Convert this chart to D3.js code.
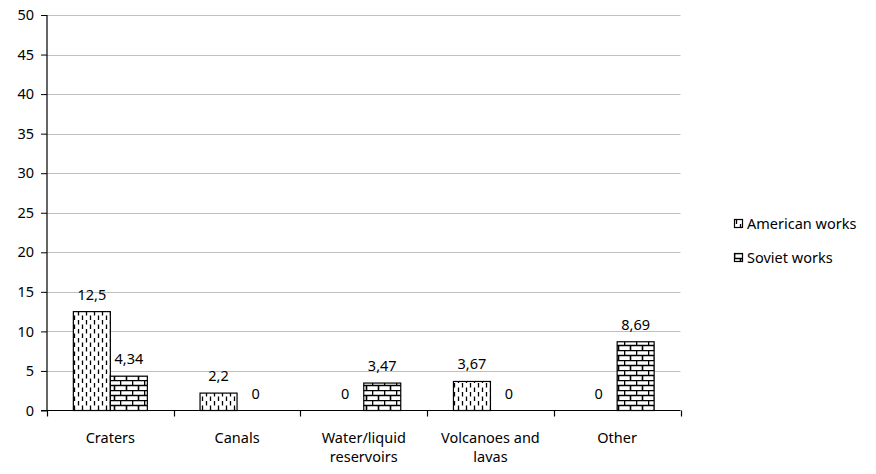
<!DOCTYPE html>
<html>
<head>
<meta charset="utf-8">
<script src="https://cdn.jsdelivr.net/npm/d3@7"></script>
<style>
  body { margin: 0; background: #fff; }
  svg text { font-family: "Noto Sans", "Open Sans", sans-serif; font-size: 14.5px; fill: #000; }
</style>
</head>
<body>
<svg id="chart" width="876" height="474"></svg>
<script>
// Share of works mentioning each feature type
const categories = ["Craters", "Canals", "Water/liquid reservoirs", "Volcanoes and lavas", "Other"];
const categoryLines = [["Craters"], ["Canals"], ["Water/liquid", "reservoirs"], ["Volcanoes and", "lavas"], ["Other"]];
const seriesNames = ["American works", "Soviet works"];
const americanValues = [12.5, 2.2, 0, 3.67, 0];
const sovietValues = [4.34, 0, 3.47, 0, 8.69];
const valueLabels = [["12,5", "2,2", "0", "3,67", "0"], ["4,34", "0", "3,47", "0", "8,69"]];
const yTicks = [0, 5, 10, 15, 20, 25, 30, 35, 40, 45, 50];

const svg = d3.select("#chart");
const plotLeft = 47, plotRight = 680.5, plotTop = 15, plotBottom = 410.5;

const defs = svg.append("defs");
// dashed vertical strokes, staggered columns
const pd = defs.append("pattern").attr("id", "dashes").attr("patternUnits", "userSpaceOnUse")
  .attr("width", 8).attr("height", 9);
pd.append("rect").attr("width", 8).attr("height", 9).attr("fill", "#fff");
pd.append("path").attr("d", "M2.5,0.5V5M6.5,5V9.5M6.5,-0.5V0.5")
  .attr("stroke", "#000").attr("stroke-width", 1.3).attr("fill", "none");
// brick wall
const pb = defs.append("pattern").attr("id", "bricks").attr("patternUnits", "userSpaceOnUse")
  .attr("width", 12).attr("height", 10);
pb.append("rect").attr("width", 12).attr("height", 10).attr("fill", "#fff");
pb.append("path").attr("d", "M0,0.5H12M0,5.5H12M0.5,0V5M6.5,5V10")
  .attr("stroke", "#000").attr("stroke-width", 1.6).attr("fill", "none");

const y = d3.scaleLinear().domain([0, 50]).range([plotBottom, plotTop]);
const x0 = d3.scaleBand().domain(categories).range([plotLeft, plotRight]).paddingInner(0).paddingOuter(0);
const groupW = 74;
const x1 = d3.scaleBand().domain(seriesNames).range([0, groupW]);

// gridlines
svg.append("g").selectAll("line").data(yTicks.filter(d => d > 0)).join("line")
  .attr("x1", plotLeft).attr("x2", plotRight)
  .attr("y1", d => Math.round(y(d)) + 0.5).attr("y2", d => Math.round(y(d)) + 0.5)
  .attr("stroke", "#c0c0c0").attr("stroke-width", 1);

// bars and their value labels
const series = [americanValues, sovietValues];
const fills = ["url(#dashes)", "url(#bricks)"];
series.forEach((vals, si) => {
  svg.append("g").selectAll("rect").data(vals.map((v, i) => ({ v, c: categories[i] })).filter(d => d.v > 0)).join("rect")
    .attr("x", d => x0(d.c) + (x0.bandwidth() - groupW) / 2 + x1(seriesNames[si]))
    .attr("y", d => y(d.v))
    .attr("width", x1.bandwidth())
    .attr("height", d => plotBottom - y(d.v))
    .attr("fill", fills[si]).attr("stroke", "#000").attr("stroke-width", 1.2);
  svg.append("g").selectAll("text").data(vals.map((v, i) => ({ v, c: categories[i], t: valueLabels[si][i] }))).join("text")
    .attr("x", d => x0(d.c) + (x0.bandwidth() - groupW) / 2 + x1(seriesNames[si]) + x1.bandwidth() / 2)
    .attr("y", d => y(d.v) - 12)
    .attr("text-anchor", "middle")
    .text(d => d.t);
});

// y axis
const yAxis = svg.append("g").attr("transform", `translate(${plotLeft},0)`)
  .call(d3.axisLeft(y).tickValues(yTicks).tickSize(6).tickPadding(7).tickFormat(d3.format("d")));
yAxis.select(".domain").attr("d", `M-6,${plotTop}.5H0V${plotBottom}H-6`).attr("stroke", "#000").attr("stroke-width", 1.2);
yAxis.selectAll(".tick line").attr("stroke", "#000");
yAxis.attr("font-size", null).attr("font-family", null);

// x axis
const xTicks = categories.map(c => x0(c)).concat([plotRight]);
svg.append("line").attr("x1", plotLeft - 6).attr("x2", plotRight).attr("y1", plotBottom).attr("y2", plotBottom)
  .attr("stroke", "#000").attr("stroke-width", 1.2);
svg.append("g").selectAll("line").data(xTicks).join("line")
  .attr("x1", d => Math.round(d) + 0.5).attr("x2", d => Math.round(d) + 0.5)
  .attr("y1", plotBottom).attr("y2", plotBottom + 6).attr("stroke", "#000").attr("stroke-width", 1.2);

const xl = svg.append("g").selectAll("text").data(categories).join("text")
  .attr("x", c => x0(c) + x0.bandwidth() / 2)
  .attr("y", 443)
  .attr("text-anchor", "middle");
xl.each(function (c, i) {
  d3.select(this).selectAll("tspan").data(categoryLines[i]).join("tspan")
    .attr("x", x0(c) + x0.bandwidth() / 2)
    .attr("dy", (d, j) => j === 0 ? 0 : 19)
    .text(d => d);
});

// legend
const legend = svg.append("g").attr("transform", "translate(734,219)");
seriesNames.forEach((name, i) => {
  const g = legend.append("g").attr("transform", `translate(0,${i * 34})`);
  g.append("rect").attr("x", 0.5).attr("y", 0.5).attr("width", 8).attr("height", 8)
    .attr("fill", fills[i]).attr("stroke", "#000").attr("stroke-width", 1.2);
  g.append("text").attr("x", 13).attr("y", 10).text(name);
});
</script>
</body>
</html>
